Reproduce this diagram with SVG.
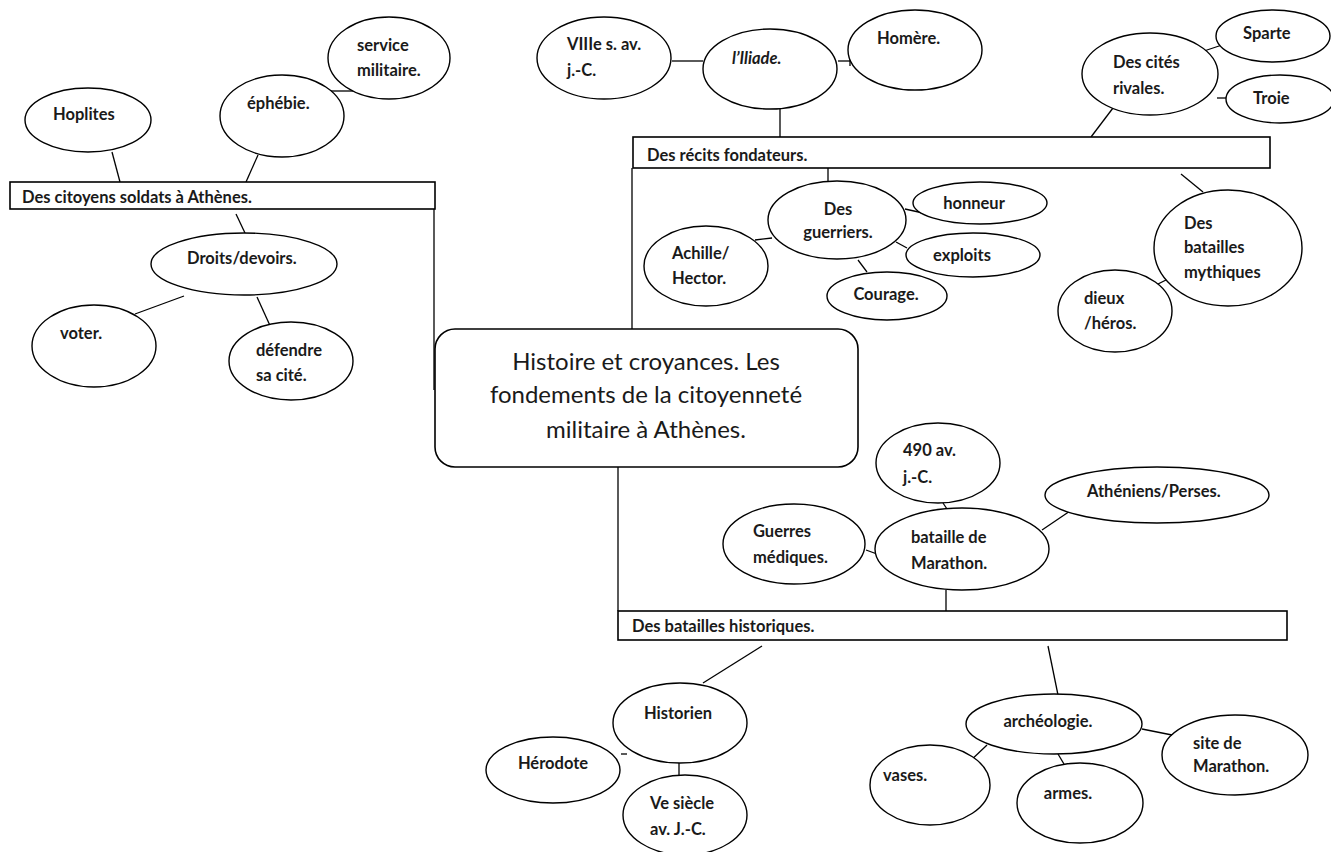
<svg xmlns="http://www.w3.org/2000/svg" width="1331" height="852" viewBox="0 0 1331 852">
<style>
.n{fill:#fff;stroke:#000;stroke-width:1.4}
.b{fill:#fff;stroke:#000;stroke-width:1.6}
.t{font-family:Lato,"Liberation Sans",sans-serif;font-size:16.5px;font-weight:700;fill:#1a1a1a}
.m{text-anchor:middle}
.c{font-family:Lato,"Liberation Sans",sans-serif;font-size:24px;fill:#1a1a1a;text-anchor:middle}
#connectors line{stroke:#000;stroke-width:1.3}
</style>
<rect width="1331" height="852" fill="#fff"/>
<g id="connectors">
<line x1="112" y1="152" x2="120" y2="182"/>
<line x1="258" y1="155" x2="246" y2="182"/>
<line x1="329" y1="91" x2="355" y2="91"/>
<line x1="236" y1="214" x2="245" y2="233"/>
<line x1="184" y1="296" x2="135" y2="314"/>
<line x1="257" y1="297" x2="272" y2="330"/>
<line x1="434" y1="209" x2="434" y2="390"/>
<line x1="672" y1="61" x2="703" y2="61"/>
<line x1="838" y1="61" x2="860" y2="61"/>
<line x1="850" y1="56" x2="850" y2="66"/>
<line x1="780" y1="109" x2="780" y2="137"/>
<line x1="632" y1="168" x2="632" y2="329"/>
<line x1="828" y1="168" x2="828" y2="181"/>
<line x1="772" y1="238" x2="755" y2="240"/>
<line x1="858" y1="260" x2="867" y2="272"/>
<line x1="905" y1="209" x2="923" y2="213"/>
<line x1="896" y1="242" x2="907" y2="248"/>
<line x1="1204" y1="51" x2="1228" y2="43"/>
<line x1="1217" y1="98" x2="1228" y2="98"/>
<line x1="1113" y1="108" x2="1091" y2="137"/>
<line x1="1181" y1="174" x2="1203" y2="192"/>
<line x1="1172" y1="277" x2="1154" y2="286"/>
<line x1="618" y1="467" x2="618" y2="611"/>
<line x1="943" y1="503" x2="947" y2="509"/>
<line x1="866" y1="550" x2="877" y2="554"/>
<line x1="1042" y1="530" x2="1073" y2="509"/>
<line x1="946" y1="590" x2="946" y2="611"/>
<line x1="762" y1="646" x2="703" y2="683"/>
<line x1="621" y1="754" x2="627" y2="754"/>
<line x1="679" y1="763" x2="679" y2="777"/>
<line x1="669" y1="777" x2="690" y2="777"/>
<line x1="1048" y1="646" x2="1058" y2="695"/>
<line x1="1142" y1="729" x2="1182" y2="737"/>
<line x1="987" y1="745" x2="967" y2="764"/>
<line x1="1058" y1="754" x2="1064" y2="764"/>
</g>
<g id="n-citoyens"><rect class="b" x="10" y="182" width="425" height="27"/><text class="t" x="22" y="203">Des citoyens soldats à Athènes.</text></g>
<g id="n-hoplites"><ellipse class="n" cx="88" cy="120" rx="63" ry="32"/><text class="t" x="53" y="120">Hoplites</text></g>
<g id="n-ephebie"><ellipse class="n" cx="282" cy="116" rx="62" ry="41"/><text class="t" x="247" y="109">éphébie.</text></g>
<g id="n-service"><ellipse class="n" cx="389" cy="58" rx="61" ry="41"/><text class="t" x="357" y="51">service</text><text class="t" x="357" y="76">militaire.</text></g>
<g id="n-droits"><ellipse class="n" cx="244" cy="264" rx="93" ry="31"/><text class="t" x="187" y="264">Droits/devoirs.</text></g>
<g id="n-voter"><ellipse class="n" cx="94" cy="346" rx="62" ry="41"/><text class="t" x="60" y="339">voter.</text></g>
<g id="n-defendre"><ellipse class="n" cx="291" cy="361" rx="62" ry="39"/><text class="t" x="256" y="356">défendre</text><text class="t" x="256" y="381">sa cité.</text></g>
<g id="n-recits"><rect class="b" x="633" y="137" width="637" height="31"/><text class="t" x="647" y="161">Des récits fondateurs.</text></g>
<g id="n-viiie"><ellipse class="n" cx="604" cy="58" rx="67" ry="41"/><text class="t" x="567" y="50">VIIIe s. av.</text><text class="t" x="567" y="76">j.-C.</text></g>
<g id="n-iliade"><ellipse class="n" cx="770" cy="69" rx="67" ry="40"/><text class="t" x="732" y="64" font-style="italic">l’Iliade.</text></g>
<g id="n-homere"><ellipse class="n" cx="915" cy="50" rx="67" ry="40"/><text class="t" x="877" y="44">Homère.</text></g>
<g id="n-guerriers"><ellipse class="n" cx="837" cy="220" rx="69" ry="39"/><text class="t m" x="838" y="215">Des</text><text class="t m" x="838" y="238">guerriers.</text></g>
<g id="n-achille"><ellipse class="n" cx="706" cy="266" rx="62" ry="40"/><text class="t" x="672" y="259">Achille/</text><text class="t" x="672" y="284">Hector.</text></g>
<g id="n-courage"><ellipse class="n" cx="887" cy="296" rx="60" ry="24"/><text class="t m" x="886" y="300">Courage.</text></g>
<g id="n-honneur"><ellipse class="n" cx="980" cy="203" rx="67" ry="21"/><text class="t m" x="974" y="209">honneur</text></g>
<g id="n-exploits"><ellipse class="n" cx="973" cy="255" rx="67" ry="22"/><text class="t m" x="962" y="261">exploits</text></g>
<g id="n-sparte"><ellipse class="n" cx="1273" cy="36" rx="57" ry="26"/><text class="t" x="1243" y="39">Sparte</text></g>
<g id="n-cites"><ellipse class="n" cx="1150" cy="74" rx="68" ry="41"/><text class="t" x="1113" y="68">Des cités</text><text class="t" x="1113" y="94">rivales.</text></g>
<g id="n-troie"><ellipse class="n" cx="1280" cy="99" rx="54" ry="24"/><text class="t" x="1253" y="104">Troie</text></g>
<g id="n-mythiques"><ellipse class="n" cx="1228" cy="248" rx="74" ry="58"/><text class="t" x="1184" y="229">Des</text><text class="t" x="1184" y="253">batailles</text><text class="t" x="1184" y="278">mythiques</text></g>
<g id="n-dieux"><ellipse class="n" cx="1115" cy="311" rx="57" ry="41"/><text class="t" x="1084" y="304">dieux</text><text class="t" x="1084" y="329">/héros.</text></g>
<g id="n-central"><rect class="b" x="435" y="329" width="423" height="138" rx="20"/><text class="c" x="646" y="370">Histoire et croyances. Les</text><text class="c" x="646" y="403">fondements de la citoyenneté</text><text class="c" x="646" y="438">militaire à Athènes.</text></g>
<g id="n-490"><ellipse class="n" cx="938" cy="463" rx="62" ry="40"/><text class="t" x="903" y="456">490 av.</text><text class="t" x="903" y="483">j.-C.</text></g>
<g id="n-guerres"><ellipse class="n" cx="794" cy="544" rx="71" ry="40"/><text class="t" x="753" y="537">Guerres</text><text class="t" x="753" y="563">médiques.</text></g>
<g id="n-bataille"><ellipse class="n" cx="962" cy="549" rx="87" ry="41"/><text class="t" x="911" y="543">bataille de</text><text class="t" x="911" y="569">Marathon.</text></g>
<g id="n-atheniens"><ellipse class="n" cx="1157" cy="495" rx="112" ry="28"/><text class="t" x="1087" y="497">Athéniens/Perses.</text></g>
<g id="n-historiques"><rect class="b" x="618" y="611" width="669" height="29"/><text class="t" x="632" y="632">Des batailles historiques.</text></g>
<g id="n-historien"><ellipse class="n" cx="680" cy="723" rx="67" ry="40"/><text class="t m" x="678" y="719">Historien</text></g>
<g id="n-herodote"><ellipse class="n" cx="553" cy="770" rx="67" ry="33"/><text class="t m" x="553" y="769">Hérodote</text></g>
<g id="n-ve"><ellipse class="n" cx="685" cy="815" rx="62" ry="40"/><text class="t" x="650" y="809">Ve siècle</text><text class="t" x="650" y="835">av. J.-C.</text></g>
<g id="n-archeo"><ellipse class="n" cx="1054" cy="724" rx="88" ry="30"/><text class="t m" x="1048" y="727">archéologie.</text></g>
<g id="n-site"><ellipse class="n" cx="1235" cy="755" rx="73" ry="40"/><text class="t" x="1193" y="749">site de</text><text class="t" x="1193" y="772">Marathon.</text></g>
<g id="n-vases"><ellipse class="n" cx="930" cy="785" rx="60" ry="40"/><text class="t" x="883" y="781">vases.</text></g>
<g id="n-armes"><ellipse class="n" cx="1080" cy="803" rx="63" ry="40"/><text class="t m" x="1068" y="799">armes.</text></g>
</svg>
